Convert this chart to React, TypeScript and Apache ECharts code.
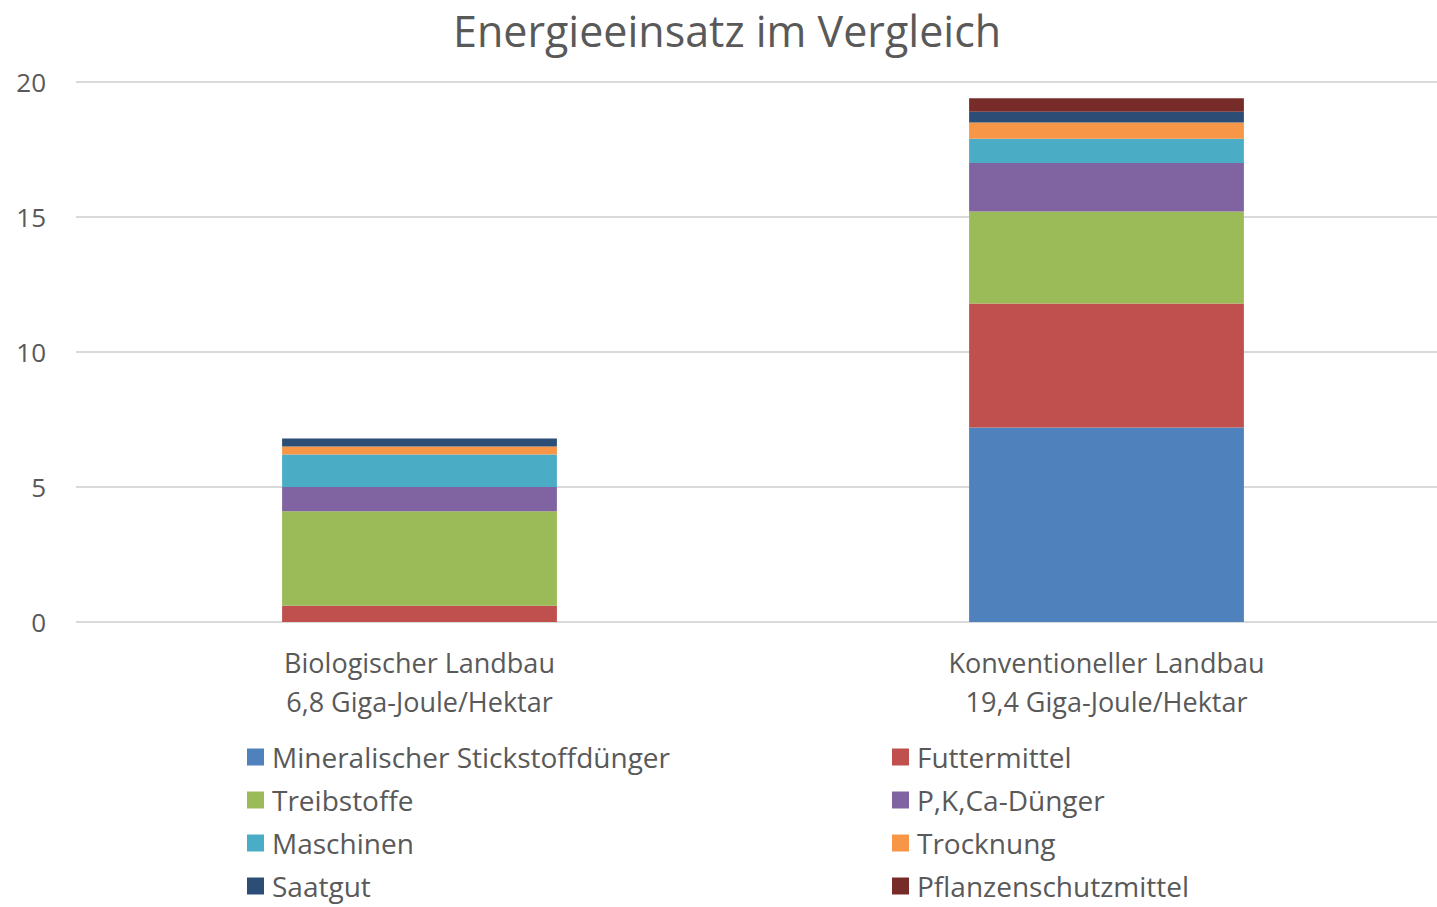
import React, { useEffect, useRef } from "react";
import * as echarts from "echarts";

const categories = [
  "Biologischer Landbau\n6,8 Giga-Joule/Hektar",
  "Konventioneller Landbau\n19,4 Giga-Joule/Hektar",
];

const seriesNames = [
  "Mineralischer Stickstoffdünger",
  "Futtermittel",
  "Treibstoffe",
  "P,K,Ca-Dünger",
  "Maschinen",
  "Trocknung",
  "Saatgut",
  "Pflanzenschutzmittel",
];

const mineral = [0, 7.2];
const futter = [0.6, 4.6];
const treib = [3.5, 3.4];
const pkca = [0.9, 1.8];
const maschinen = [1.2, 0.9];
const trocknung = [0.3, 0.6];
const saatgut = [0.3, 0.4];
const pflanzenschutz = [0, 0.5];

const seriesValues = [mineral, futter, treib, pkca, maschinen, trocknung, saatgut, pflanzenschutz];

const colors = [
  "#4F81BD",
  "#C0504D",
  "#9BBB59",
  "#8064A2",
  "#4BACC6",
  "#F79646",
  "#2C4D75",
  "#772C2A",
];

const yTicks = { min: 0, max: 20, interval: 5 };

const FONT = "Open Sans";

export default function App() {
  const ref = useRef<HTMLDivElement>(null);

  useEffect(() => {
    document.body.style.margin = "0";
    document.body.style.overflow = "hidden";
    if (!ref.current) return;
    const chart = echarts.init(ref.current, undefined, { renderer: "svg" });
    const legendText = {
      color: "#595959",
      fontSize: 28,
      fontFamily: FONT,
      lineHeight: 28,
      padding: [0, 0, 0, 3],
    };
    const legendBase = {
      orient: "vertical",
      top: 738,
      height: 166,
      itemWidth: 17,
      itemHeight: 17,
      itemGap: 15,
      icon: "rect",
      textStyle: legendText,
    };
    chart.setOption({
      animation: false,
      color: colors,
      title: {
        text: "Energieeinsatz im Vergleich",
        left: 448,
        top: 4,
        textStyle: { color: "#595959", fontSize: 43, fontWeight: "normal", fontFamily: FONT },
      },
      grid: {
        left: 76,
        top: 82,
        width: 1374,
        height: 540,
        containLabel: false,
        outerBoundsMode: "none",
      },
      legend: [
        {
          ...legendBase,
          left: 242,
          data: [seriesNames[0], seriesNames[2], seriesNames[4], seriesNames[6]],
        },
        {
          ...legendBase,
          left: 887,
          data: [seriesNames[1], seriesNames[3], seriesNames[5], seriesNames[7]],
        },
      ],
      xAxis: {
        type: "category",
        data: categories,
        axisLine: { show: false },
        axisTick: { show: false },
        axisLabel: {
          color: "#595959",
          fontSize: 27,
          fontFamily: FONT,
          lineHeight: 39,
          margin: 21,
        },
      },
      yAxis: {
        type: "value",
        min: yTicks.min,
        max: yTicks.max,
        interval: yTicks.interval,
        axisLine: { show: false },
        axisTick: { show: false },
        axisLabel: { color: "#595959", fontSize: 26, fontFamily: FONT, margin: 30 },
        splitLine: { lineStyle: { color: "#D9D9D9", width: 2 } },
      },
      series: seriesNames.map((name, i) => ({
        name,
        type: "bar",
        stack: "total",
        barWidth: "40%",
        data: seriesValues[i],
        itemStyle: { color: colors[i] },
      })),
    });
    return () => chart.dispose();
  }, []);

  return <div ref={ref} style={{ width: 1437, height: 907 }} />;
}
